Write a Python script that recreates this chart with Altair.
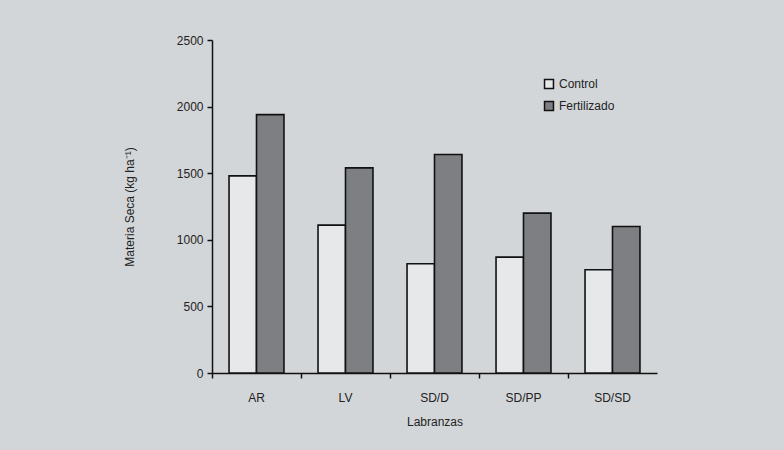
import altair as alt
import pandas as pd

categories = ["AR", "LV", "SD/D", "SD/PP", "SD/SD"]
control = [1480, 1110, 820, 870, 775]
fertilizado = [1940, 1540, 1640, 1200, 1100]
series_names = ["Control", "Fertilizado"]
y_ticks = [0, 500, 1000, 1500, 2000, 2500]

rows = []
for c, v1, v2 in zip(categories, control, fertilizado):
    rows.append({"Labranza": c, "Tratamiento": series_names[0], "valor": v1})
    rows.append({"Labranza": c, "Tratamiento": series_names[1], "valor": v2})
df = pd.DataFrame(rows)

font = "Liberation Sans"
bg = "#d3d6d9"

chart = alt.Chart(df).mark_bar(stroke="#111111", strokeWidth=1.6).encode(
    x=alt.X(
        "Labranza:N",
        sort=categories,
        scale=alt.Scale(paddingInner=0, paddingOuter=0),
        axis=alt.Axis(
            title="Labranzas",
            labelAngle=0,
            bandPosition=0,
            labelOffset=0,
            tickSize=5,
            tickColor="#111111",
            domainColor="#111111",
            domainWidth=1.5,
            tickWidth=1.5,
            labelFont=font,
            labelFontSize=12,
            labelColor="#222222",
            labelPadding=14,
            titleFont=font,
            titleFontSize=12,
            titleFontWeight="normal",
            titleColor="#222222",
            titlePadding=13,
        ),
    ),
    xOffset=alt.XOffset(
        "Tratamiento:N",
        sort=series_names,
        scale=alt.Scale(paddingInner=0, paddingOuter=0.62),
    ),
    y=alt.Y(
        "valor:Q",
        scale=alt.Scale(domain=[0, 2500], nice=False),
        axis=alt.Axis(
            title="Materia Seca (kg ha⁻¹)",
            values=y_ticks,
            format="d",
            grid=False,
            tickSize=5,
            tickColor="#111111",
            domainColor="#111111",
            domainWidth=1.5,
            tickWidth=1.5,
            labelFont=font,
            labelFontSize=12,
            labelColor="#222222",
            labelPadding=4,
            titleFont=font,
            titleFontSize=12,
            titleFontWeight="normal",
            titleColor="#222222",
            titlePadding=40,
        ),
    ),
    color=alt.Color(
        "Tratamiento:N",
        sort=series_names,
        scale=alt.Scale(domain=series_names, range=["#e6e8ea", "#7e7f82"]),
        legend=alt.Legend(
            title=None,
            orient="none",
            legendX=331,
            legendY=38,
            symbolType="square",
            symbolSize=80,
            symbolStrokeColor="#111111",
            symbolStrokeWidth=1.5,
            labelFont=font,
            labelFontSize=12,
            labelColor="#222222",
            rowPadding=6,
        ),
    ),
).properties(
    width=445,
    height=333,
    background=bg,
    padding={"left": 212, "top": 40, "right": 127, "bottom": 77},
    autosize=alt.AutoSizeParams(type="none"),
).configure_view(stroke=None, fill=bg)

chart.save("out.html", embed_options={"renderer": "svg", "actions": False})
